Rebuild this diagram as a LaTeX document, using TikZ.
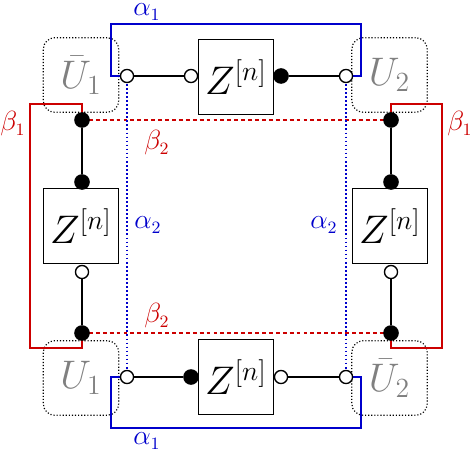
\documentclass[tikz,border=0pt]{standalone}
\begin{document}
\begin{tikzpicture}[x=0.52pt,y=-0.52pt,
  wire/.style={line width=0.7pt,black},
  zbox/.style={draw,line width=0.7pt,minimum width=39.2pt,minimum height=39.2pt,inner sep=0pt,font=\huge,fill=white},
  ubox/.style={draw,densely dotted,line width=0.6pt,rounded corners=6pt,minimum width=39.2pt,minimum height=38.8pt,inner sep=0pt,font=\huge,text=gray},
  opendot/.style={circle,draw,line width=0.7pt,fill=white,inner sep=0pt,minimum size=6.8pt},
  fulldot/.style={circle,draw,line width=0.7pt,fill=black,inner sep=0pt,minimum size=7.4pt},
  bl/.style={draw=blue!80!black,line width=0.7pt},
  rd/.style={draw=red!80!black,line width=0.7pt},
  bldot/.style={bl,dash pattern=on 0.9pt off 1.2pt},
  rddash/.style={rd,dash pattern=on 2pt off 1.6pt},
  blab/.style={text=blue!80!black,font=\fontsize{13.5}{16}\selectfont,inner sep=0pt},
  rlab/.style={text=red!80!black,font=\fontsize{13.5}{16}\selectfont,inner sep=0pt}]
\useasboundingbox (0,0) rectangle (473,453);
% U boxes
\node[ubox] (U1b) at (81,75) {$\bar U_1$};
\node[ubox] (U2) at (389.5,75) {$U_2$};
\node[ubox] (U1) at (81,378) {$U_1$};
\node[ubox] (U2b) at (389.5,378) {$\bar U_2$};
% coordinates
\coordinate (c1) at (30,104);
\coordinate (c2) at (30,348);
\coordinate (c3) at (442,104);
\coordinate (c4) at (442,348);
\coordinate (c5) at (111,24);
\coordinate (c6) at (361,24);
\coordinate (c7) at (111,428);
\coordinate (c8) at (361,428);
% dot coordinates
\coordinate (pt1) at (127,76);
\coordinate (pt4) at (346,76);
\coordinate (pb1) at (127,377);
\coordinate (pb4) at (346,377);
\coordinate (pl1) at (82,120);
\coordinate (pl4) at (82,333);
\coordinate (pr1) at (391,120);
\coordinate (pr4) at (391,333);
% colored lines
\draw[rd] (pl1) |- (c1) -- (c2) -| (pl4);
\draw[rd] (pr1) |- (c3) -- (c4) -| (pr4);
\draw[bl] (pt1) -| (c5) -- (c6) |- (pt4);
\draw[bl] (pb1) -| (c7) -- (c8) |- (pb4);
\draw[rddash] (pl1) -- (pr1);
\draw[rddash] (pl4) -- (pr4);
\draw[bldot] (pt1) -- (pb1);
\draw[bldot] (pt4) -- (pb4);
% Z boxes
\node[zbox] (Zt) at (236,77) {$Z^{[n]}$};
\node[zbox] (Zb) at (236,377) {$Z^{[n]}$};
\node[zbox] (Zl) at (81,226) {$Z^{[n]}$};
\node[zbox] (Zr) at (390,226) {$Z^{[n]}$};
% dots
\node[opendot] (t1) at (pt1) {};
\node[opendot] (t2) at (191,76) {};
\node[fulldot] (t3) at (281,76) {};
\node[opendot] (t4) at (pt4) {};
\node[opendot] (b1) at (pb1) {};
\node[fulldot] (b2) at (191,377) {};
\node[opendot] (b3) at (281,377) {};
\node[opendot] (b4) at (pb4) {};
\node[fulldot] (l1) at (pl1) {};
\node[fulldot] (l2) at (82,182) {};
\node[opendot] (l3) at (82,272) {};
\node[fulldot] (l4) at (pl4) {};
\node[fulldot] (r1) at (pr1) {};
\node[fulldot] (r2) at (391,182) {};
\node[opendot] (r3) at (391,272) {};
\node[fulldot] (r4) at (pr4) {};
% wires
\draw[wire] (t1) -- (t2);
\draw[wire] (t3) -- (t4);
\draw[wire] (b1) -- (b2);
\draw[wire] (b3) -- (b4);
\draw[wire] (l1) -- (l2);
\draw[wire] (l3) -- (l4);
\draw[wire] (r1) -- (r2);
\draw[wire] (r3) -- (r4);
% labels
\node[blab] (la1) at (147,12) {$\alpha_1$};
\node[blab] (la1b) at (147,441) {$\alpha_1$};
\node[blab] (la2l) at (148,225) {$\alpha_2$};
\node[blab] (la2r) at (324,225) {$\alpha_2$};
\node[rlab] (lb1l) at (13,124) {$\beta_1$};
\node[rlab] (lb1r) at (460,124) {$\beta_1$};
\node[rlab] (lb2t) at (157,143) {$\beta_2$};
\node[rlab] (lb2b) at (157,316) {$\beta_2$};
\end{tikzpicture}
\end{document}
